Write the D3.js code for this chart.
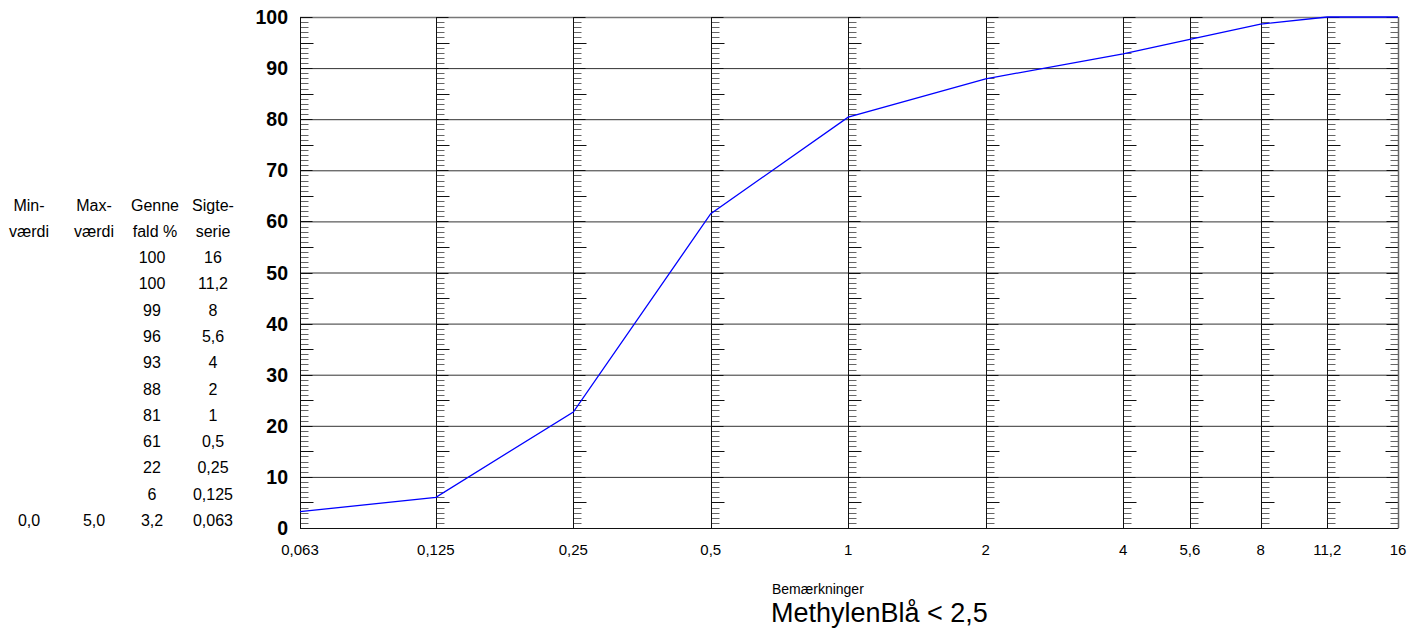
<!DOCTYPE html>
<html>
<head>
<meta charset="utf-8">
<script src="https://cdn.jsdelivr.net/npm/d3@7"></script>
<style>
  body { margin: 0; background: #fff; }
  svg { font-family: "Liberation Sans", Arial, sans-serif; }
</style>
</head>
<body>
<svg id="chart"></svg>
<script>
// Sigteserie (mm) og gennemfald (%)
var sieves = [0.063, 0.125, 0.25, 0.5, 1, 2, 4, 5.6, 8, 11.2, 16];
var sieveLabels = ["0,063", "0,125", "0,25", "0,5", "1", "2", "4", "5,6", "8", "11,2", "16"];
var passing = [3.2, 6.0, 22.7, 61.5, 80.4, 87.9, 92.8, 95.6, 98.6, 100, 100];
var yTicks = [0, 10, 20, 30, 40, 50, 60, 70, 80, 90, 100];

// Tabel til venstre (vises fra største sigte nedefter)
var tableHeads = [["Min-", "værdi"], ["Max-", "værdi"], ["Genne", "fald %"], ["Sigte-", "serie"]];
var tablePassing = ["100", "100", "99", "96", "93", "88", "81", "61", "22", "6", "3,2"];
var tableSieves = ["16", "11,2", "8", "5,6", "4", "2", "1", "0,5", "0,25", "0,125", "0,063"];
var minValue = "0,0", maxValue = "5,0";

var remarkTitle = "Bemærkninger";
var remark = "MethylenBlå < 2,5";

var width = 1410, height = 630;
var svg = d3.select("#chart").attr("width", width).attr("height", height);

var x = d3.scaleLog().domain([0.063, 16]).range([300, 1398]);
var y = d3.scaleLinear().domain([0, 100]).range([528, 17]);

// Vandrette gitterlinjer
svg.append("g").selectAll("line")
  .data(yTicks.slice(1))
  .enter().append("line")
  .attr("x1", 300).attr("x2", 1398)
  .attr("y1", d => y(d) + 0.5).attr("y2", d => y(d) + 0.5)
  .attr("stroke", d => d === 100 ? "#777" : "#333")
  .attr("stroke-width", d => d === 100 ? 1.5 : 1);

// Lodrette linjer med småstreger
var units = d3.range(0, 101, 1);
sieves.forEach(function(s, i) {
  var xp = Math.round(x(s)) + 0.5;
  var dir = i === sieves.length - 1 ? -1 : 1;
  var g = svg.append("g");
  g.selectAll("line")
    .data(units)
    .enter().append("line")
    .attr("x1", xp)
    .attr("x2", d => xp + dir * (d % 10 === 0 ? 12 : d % 5 === 0 ? 13 : 8))
    .attr("y1", d => Math.round(y(d)) + 0.5)
    .attr("y2", d => Math.round(y(d)) + 0.5)
    .attr("stroke", d => d % 5 === 0 ? "#111" : "#666")
    .attr("stroke-width", 1);
  g.append("line")
    .attr("x1", xp).attr("x2", xp)
    .attr("y1", y(100)).attr("y2", y(0))
    .attr("stroke", i === sieves.length - 1 ? "#666" : "#111")
    .attr("stroke-width", i === sieves.length - 1 ? 1.5 : 1);
});

// Bundakse
svg.append("line")
  .attr("x1", 300).attr("x2", 1398)
  .attr("y1", y(0) + 0.5).attr("y2", y(0) + 0.5)
  .attr("stroke", "#111").attr("stroke-width", 1.2);

// Y-aksens tal
svg.append("g").selectAll("text")
  .data(yTicks)
  .enter().append("text")
  .attr("x", 288)
  .attr("y", d => y(d) + 7)
  .attr("text-anchor", "end")
  .attr("font-weight", "bold")
  .attr("font-size", 19.5)
  .text(d => d);

// X-aksens tal
svg.append("g").selectAll("text")
  .data(sieves)
  .enter().append("text")
  .attr("x", d => x(d))
  .attr("y", 555)
  .attr("text-anchor", "middle")
  .attr("font-size", 15)
  .text((d, i) => sieveLabels[i]);

// Sigtekurve
var line = d3.line()
  .x((d, i) => x(sieves[i]))
  .y(d => y(d));

svg.append("path")
  .datum(passing)
  .attr("d", line)
  .attr("fill", "none")
  .attr("stroke", "#0000ff")
  .attr("stroke-width", 1.3);

// Tabel
var colX = [29, 94, 155, 213];
var tbl = svg.append("g").attr("font-size", 16).attr("text-anchor", "middle");
tableHeads.forEach(function(h, c) {
  tbl.append("text").attr("x", colX[c]).attr("y", 211).text(h[0]);
  tbl.append("text").attr("x", colX[c]).attr("y", 237).text(h[1]);
});
var rowY = d3.scaleLinear().domain([0, 10]).range([263, 526]);
tablePassing.forEach(function(v, r) {
  tbl.append("text").attr("x", colX[2] - 3).attr("y", rowY(r)).text(v);
  tbl.append("text").attr("x", colX[3]).attr("y", rowY(r)).text(tableSieves[r]);
});
tbl.append("text").attr("x", colX[0]).attr("y", rowY(10)).text(minValue);
tbl.append("text").attr("x", colX[1]).attr("y", rowY(10)).text(maxValue);

// Bemærkninger
svg.append("text").attr("x", 772).attr("y", 594).attr("font-size", 14).text(remarkTitle);
svg.append("text").attr("x", 771).attr("y", 622).attr("font-size", 27).text(remark);
</script>
</body>
</html>
